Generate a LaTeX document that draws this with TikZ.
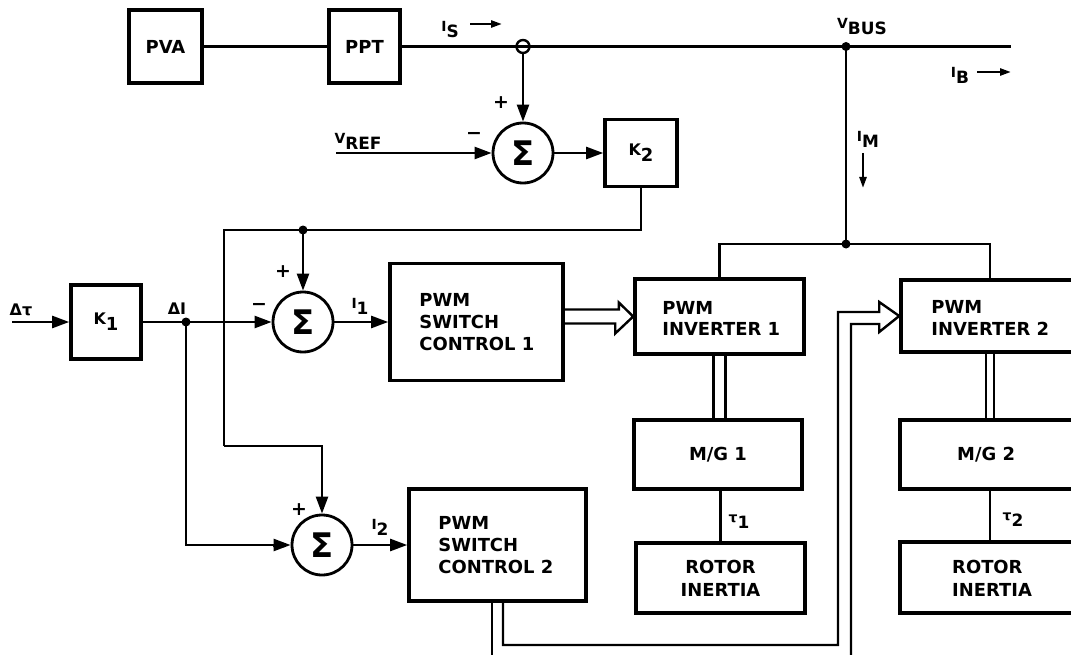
\documentclass[tikz,border=0pt]{standalone}
\usepackage{fontspec}
\setmainfont{DejaVu Sans}
\newfontfamily\sigfont{DejaVu Sans}
\usetikzlibrary{arrows.meta,calc}
\newcommand{\lsub}[2]{{\fontsize{14}{14}\selectfont #1}\raisebox{-6bp}{\fontsize{17}{17}\selectfont #2}}
\newcommand{\ksub}[2]{{\fontsize{16}{16}\selectfont #1}\raisebox{-6bp}{\fontsize{18}{18}\selectfont #2}}
\tikzset{
  blk/.style={draw, line width=3.6bp, inner sep=0pt, font=\bfseries\fontsize{18}{23}\selectfont, align=center},
  btxt/.style={inner sep=0pt, font=\bfseries\fontsize{18}{23}\selectfont},
  conn/.style={line width=2.4bp},
  arr/.style={conn, -{Triangle[length=17bp,width=12bp]}},
  larr/.style={conn, -{Triangle[length=11bp,width=7bp]}},
  sumn/.style={circle, draw, line width=2.8bp, minimum size=60bp, inner sep=0pt, font=\sigfont\bfseries\fontsize{34}{34}\selectfont},
  txt/.style={font=\bfseries\fontsize{18}{22}\selectfont, align=left, inner sep=0pt},
  jdot/.style={circle, fill, minimum size=9bp, inner sep=0pt},
  lbl/.style={font=\bfseries, inner sep=0pt},
  sgn/.style={font=\bfseries\fontsize{19}{19}\selectfont, inner sep=0pt},
}
\begin{document}
\begin{tikzpicture}[x=1bp,y=-1bp]
\useasboundingbox (0,0) rectangle (1071,655);
\clip (0,0) rectangle (1071,655);

% blocks
\node[blk, minimum width=73bp, minimum height=73bp] (pva) at (165.5,46.5) {PVA};
\node[blk, minimum width=71bp, minimum height=73bp] (ppt) at (364.5,46.5) {PPT};
\node[blk, minimum width=72bp, minimum height=67bp] (k2) at (641,153) {\ksub{K}{2}};
\node[blk, minimum width=70bp, minimum height=74bp] (k1) at (106,322) {\ksub{K}{1}};
\node[blk, minimum width=173bp, minimum height=117bp] (sc1) at (476.5,322) {};
\node[txt, anchor=west] (sc1t) at ($(sc1.west)+(31,0)$) {PWM\\SWITCH\\CONTROL 1};
\node[blk, minimum width=177bp, minimum height=112bp] (sc2) at (497.5,545) {};
\node[txt, anchor=west] (sc2t) at ($(sc2.west)+(31,0)$) {PWM\\SWITCH\\CONTROL 2};
\node[blk, minimum width=169bp, minimum height=75bp] (inv1) at (719.5,316.5) {};
\node[txt, anchor=west] (inv1t) at ($(inv1.west)+(29,2)$) {PWM\\INVERTER 1};
\node[blk, minimum width=178bp, minimum height=72bp] (inv2) at (990,316) {};
\node[txt, anchor=west] (inv2t) at ($(inv2.west)+(32,2)$) {PWM\\INVERTER 2};
\node[blk, minimum width=168bp, minimum height=69bp] (mg1) at (718,454.5) {M/G 1};
\node[blk, minimum width=169bp, minimum height=70bp] (ri1) at (720.5,578) {ROTOR\\INERTIA};
\node[blk, minimum width=180bp, minimum height=69bp] (mg2) at (990,454.5) {};
\node[btxt, anchor=west] (mg2t) at (957,455) {M/G 2};
\node[btxt, anchor=west, align=left] (ri2t) at (952,578) {ROTOR\\INERTIA};
\node[blk, minimum width=180bp, minimum height=71bp] (ri2) at (990,577.5) {};

% summing junctions
\node[sumn] (s0) at (523,153) {Σ};
\node[sumn] (s1) at (303,322) {Σ};
\node[sumn] (s2) at (322,545) {Σ};

% bus
\coordinate (busend) at (1011,46.5);
\coordinate (jb) at (846,46.5);
\coordinate (jm) at (846,244);
\draw[conn] (pva.east) -- (ppt.west);
\draw[conn] (ppt.east) -- (busend);
\node[circle, draw, line width=2.4bp, minimum size=13bp, inner sep=0pt] (isn) at (523,46.5) {};
\draw[arr] (isn.south) -- (s0.north);
\coordinate (vref) at (336,153);
\draw[arr] (vref) -- (s0.west);
\draw[arr] (s0.east) -- (k2.west);
\draw[conn] (jb) -- (jm);
\draw[conn] (inv1.north) |- (jm) -| (inv2.north);
\node[jdot] (djb) at (jb) {};
\node[jdot] (djm) at (jm) {};

% K2 feedback loop
\coordinate (lc) at (224,230);
\coordinate (jk) at (303,230);
\coordinate (lb) at (224,446);
\draw[conn] (k2.south) |- (lc) -- (lb);
\draw[arr] (lb) -| (s2.north);
\draw[arr] (jk) -- (s1.north);
\node[jdot] (djk) at (jk) {};

% delta tau path
\coordinate (dtin) at (12,322);
\coordinate (jd) at (186,322);
\draw[arr] (dtin) -- (k1.west);
\draw[conn] (k1.east) -- (jd);
\draw[arr] (jd) -- (s1.west);
\draw[arr] (jd) |- (s2.west);
\node[jdot] (djd) at (jd) {};
\draw[arr] (s1.east) -- (sc1.west);
\draw[arr] (s2.east) -- (sc2.west);

% hollow double arrow SC1 -> INV1
\coordinate (d1) at ($(inv1.west)+(0,-7)$);
\draw[conn, line join=miter] (sc1.east |- d1) -- ++(54,0) -- ++(0,-7) -- (inv1.west) -- ++(-18,17) -- ++(0,-10) -- ++(-54,0);

% hollow double arrow SC2 -> INV2
\coordinate (bc) at (838,645);
\coordinate (be) at (851,655);
\draw[conn, line join=miter] ([xshift=5.5bp]sc2.south) |- (bc) |- ($(inv2.west)+(-20,-4)$) -- ++(0,-10) -- (inv2.west) -- ++(-20,16) -- ++(0,-8) -| (be);
\draw[conn] ([xshift=-5.5bp]sc2.south) -- ++(0,60);

% inverter to M/G double lines
\draw[conn] ([xshift=-6bp]inv1.south) -- ([xshift=-6bp]inv1.south |- mg1.north);
\draw[conn] ([xshift=6bp]inv1.south) -- ([xshift=6bp]inv1.south |- mg1.north);
\draw[conn] ([xshift=-4bp]inv2.south) -- ([xshift=-4bp]inv2.south |- mg2.north);
\draw[conn] ([xshift=4bp]inv2.south) -- ([xshift=4bp]inv2.south |- mg2.north);

% M/G to rotor
\draw[conn] (ri1.north) -- (ri1.north |- mg1.south);
\draw[conn] (mg2.south) -- (ri2.north);

% labels
\node[lbl] (lis) at (450,30) {\lsub{I}{S}};
\coordinate (isa) at (470,24); \coordinate (isb) at (502,24);
\draw[larr] (isa) -- (isb);
\node[lbl] (lvbus) at (862,27) {\lsub{V}{BUS}};
\node[lbl] (lib) at (960,75) {\lsub{I}{B}};
\coordinate (iba) at (977,72); \coordinate (ibb) at (1011,72);
\draw[larr] (iba) -- (ibb);
\node[lbl] (lim) at (868,139) {\lsub{I}{M}};
\coordinate (ima) at (863,153); \coordinate (imb) at (863,188);
\draw[larr] (ima) -- (imb);
\node[lbl] (lvref) at (358,141) {\lsub{V}{REF}};
\node[sgn] (p0) at (501,103) {+};
\node[sgn] (m0) at (474,136) {−};
\node[sgn] (p1) at (283,272) {+};
\node[sgn] (m1) at (259,307) {−};
\node[sgn] (p2) at (299,510) {+};
\node[sgn] (m2) at (279,549) {−};
\node[lbl] (li1) at (360,306) {\lsub{I}{1}};
\node[lbl] (li2) at (380,527) {\lsub{I}{2}};
\node[lbl, font=\bfseries\fontsize{16}{16}\selectfont] (ldt) at (21,310) {Δτ};
\node[lbl, font=\bfseries\fontsize{16}{16}\selectfont] (ldi) at (177,309) {ΔI};
\node[lbl] (lt1) at (739,522) {\lsub{τ}{1}};
\node[lbl] (lt2) at (1013,520) {\lsub{τ}{2}};
\end{tikzpicture}
\end{document}
